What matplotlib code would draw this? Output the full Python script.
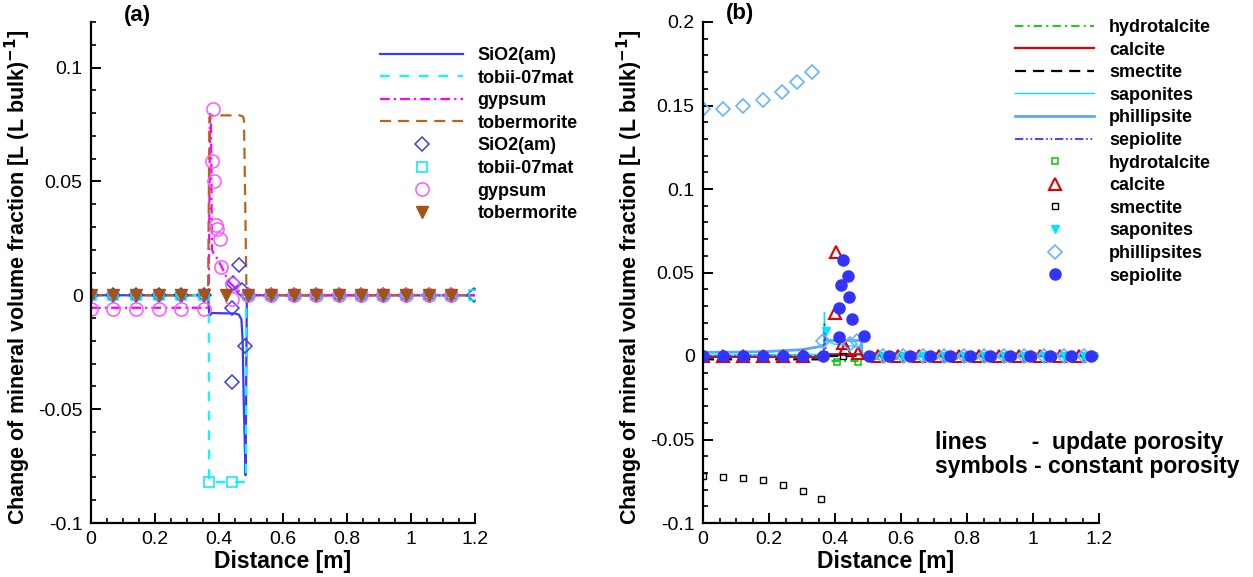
import numpy as np
import matplotlib
matplotlib.use("Agg")
import matplotlib.pyplot as plt
from matplotlib.ticker import MultipleLocator, FuncFormatter

plt.rcParams['font.family'] = ['Liberation Sans', 'DejaVu Sans']
plt.rcParams['axes.unicode_minus'] = False
plt.rcParams['lines.scale_dashes'] = False

# ---------------- panel (a) : lines (update porosity) ----------------
a_sio2_x = [0, 0.365, 0.370, 0.378, 0.45, 0.462, 0.470, 0.474, 0.477, 0.480, 0.483, 0.487, 1.2]
a_sio2_y = [0, 0, -0.009, -0.0078, -0.008, -0.0085, -0.0105, -0.02, -0.045, -0.062, -0.079, 0, 0]
a_tobii_x = [0, 0.368, 0.369, 0.484, 0.485, 1.2]
a_tobii_y = [0, 0, -0.082, -0.082, 0, 0]
a_gyp_x = [0, 0.366, 0.368, 0.372, 0.375, 0.378, 0.385, 0.395, 0.41, 0.43, 0.46, 0.5, 1.2]
a_gyp_y = [-0.0055, -0.0055, 0.0, 0.08, 0.075, 0.02, 0.018, 0.016, 0.012, 0.006, 0.002, 0, 0]
a_tob_x = [0, 0.366, 0.370, 0.375, 0.465, 0.475, 0.478, 0.482, 0.486, 1.2]
a_tob_y = [0, 0, 0.078, 0.079, 0.079, 0.0785, 0.077, 0.04, 0, 0]

# ---------------- panel (a) : symbols (constant porosity) ----------------
a_sio2_sx = [0, 0.07, 0.141, 0.211, 0.281, 0.352, 0.44, 0.44, 0.443, 0.463, 0.472, 0.48,
             0.492, 0.563, 0.633, 0.703, 0.774, 0.844, 0.914, 0.985, 1.055, 1.125, 1.196]
a_sio2_sy = [0, 0, 0, 0, 0, 0, -0.0379, -0.0056, 0.0055, 0.0135, 0.0025, -0.0223,
             0, 0, 0, 0, 0, 0, 0, 0, 0, 0, 0]
a_tobii_sx = [0, 0.07, 0.141, 0.211, 0.281, 0.352, 0.37, 0.44,
              0.492, 0.563, 0.633, 0.703, 0.774, 0.844, 0.914, 0.985, 1.055, 1.125, 1.196]
a_tobii_sy = [0, 0, 0, 0, 0, 0, -0.082, -0.082, 0, 0, 0, 0, 0, 0, 0, 0, 0, 0, 0]
a_gyp_sx = [0, 0.07, 0.141, 0.211, 0.281, 0.352, 0.38, 0.378, 0.383, 0.39, 0.394, 0.403,
            0.405, 0.44, 0.44, 0.492, 0.563, 0.633, 0.703, 0.774, 0.844, 0.914, 0.985, 1.055, 1.125]
a_gyp_sy = [-0.006, -0.006, -0.006, -0.006, -0.006, -0.006, 0.082, 0.059, 0.050, 0.031, 0.029,
            0.0245, 0.0123, 0.005, -0.0015, 0, 0, 0, 0, 0, 0, 0, 0, 0, 0]
a_tob_sx = [0, 0.07, 0.141, 0.211, 0.281, 0.352, 0.422, 0.492, 0.563, 0.633,
            0.703, 0.774, 0.844, 0.914, 0.985, 1.055, 1.125]
a_tob_sy = [0] * 17

# ---------------- panel (b) : lines ----------------
b_hyd_x = [0, 0.37, 0.38, 0.47, 0.48, 1.2]
b_hyd_y = [0, 0, -0.003, -0.003, 0, 0]
b_cal_x = [0, 0.37, 0.375, 0.48, 0.49, 1.2]
b_cal_y = [-0.0005, -0.0005, 0.001, 0.001, 0, 0]
b_sme_x = [0, 0.365, 0.37, 1.2]
b_sme_y = [-0.002, -0.002, 0, 0]
b_sap_x = [0, 0.366, 0.368, 0.370, 0.374, 0.40, 0.45, 0.48, 0.485, 1.2]
b_sap_y = [0.0005, 0.001, 0.026, 0.012, 0.009, 0.007, 0.006, 0.005, 0, 0]
b_phi_x = [0, 0.1, 0.2, 0.3, 0.35, 0.366, 0.37, 0.47, 0.48, 0.482, 1.2]
b_phi_y = [0.0022, 0.0023, 0.0027, 0.0038, 0.0055, 0.0065, 0.0093, 0.0093, 0.009, 0, 0]
b_sep_x = [0, 0.366, 0.368, 0.372, 0.38, 0.48, 0.49, 1.2]
b_sep_y = [0, 0, 0.019, 0.004, 0.001, 0.001, 0, 0]

# ---------------- panel (b) : symbols ----------------
b_hyd_sx = [0.406, 0.469, 0.52, 0.58, 0.64, 0.70, 0.76, 0.82, 0.88, 0.94, 1.0, 1.06, 1.12, 1.186]
b_hyd_sy = [-0.0035, -0.0035, 0, 0, 0, 0, 0, 0, 0, 0, 0, 0, 0, 0]
b_cal_sx = [0, 0.06, 0.122, 0.183, 0.241, 0.302, 0.403, 0.40, 0.425, 0.43, 0.47,
            0.53, 0.592, 0.655, 0.716, 0.777, 0.837, 0.898, 0.959, 1.02, 1.081, 1.139]
b_cal_sy = [0, 0, 0, 0, 0, 0, 0.0621, 0.0258, 0.0078, 0.004, 0.0015,
            0, 0, 0, 0, 0, 0, 0, 0, 0, 0, 0]
b_sme_sx = [0, 0.06, 0.122, 0.183, 0.241, 0.302, 0.357, 0.424]
b_sme_sy = [-0.0716, -0.0722, -0.0729, -0.0744, -0.0771, -0.081, -0.0855, 0.0]
b_sap_sx = [0.373, 0.544, 0.605, 0.666, 0.729, 0.79, 0.852, 0.912, 0.972, 1.033, 1.094, 1.155]
b_sap_sy = [0.0148, 0, 0, 0, 0, 0, 0, 0, 0, 0, 0, 0]
b_phi_sx = [0, 0.06, 0.122, 0.183, 0.238, 0.285, 0.33, 0.365, 0.445, 0.467,
            0.544, 0.605, 0.666, 0.729, 0.79, 0.852, 0.912, 0.972, 1.033, 1.094, 1.155]
b_phi_sy = [0.148, 0.148, 0.150, 0.153, 0.158, 0.164, 0.170, 0.0088, 0.007, 0.0088,
            0, 0, 0, 0, 0, 0, 0, 0, 0, 0, 0]
b_sep_sx = [0, 0.061, 0.122, 0.183, 0.241, 0.302, 0.365, 0.411, 0.411, 0.453, 0.442,
            0.417, 0.44, 0.425, 0.489, 0.503, 0.565, 0.626, 0.688, 0.749, 0.81,
            0.871, 0.931, 0.992, 1.053, 1.114, 1.175]
b_sep_sy = [0, 0, 0, 0, 0, 0, 0, 0.0115, 0.029, 0.022, 0.0352, 0.0423, 0.0478,
            0.0577, 0.0119, 0, 0, 0, 0, 0, 0, 0, 0, 0, 0, 0, 0]

W, H = 1253, 577
fig = plt.figure(figsize=(W / 100, H / 100), dpi=100)

def px_axes(x0, x1, ytop, ybot):
  return fig.add_axes([x0 / W, 1 - ybot / H, (x1 - x0) / W, (ybot - ytop) / H])

def style_axes(ax, ylim, ymajor):
  ax.set_xlim(0, 1.2)
  ax.set_ylim(*ylim)
  for s in ['top', 'right']:
    ax.spines[s].set_visible(False)
  for s in ['left', 'bottom']:
    ax.spines[s].set_linewidth(1.6)
  ax.xaxis.set_major_locator(MultipleLocator(0.2))
  ax.xaxis.set_minor_locator(MultipleLocator(0.05))
  ax.yaxis.set_major_locator(MultipleLocator(ymajor))
  ax.yaxis.set_minor_locator(MultipleLocator(0.01))
  fmt = FuncFormatter(lambda v, p: '0' if abs(v) < 1e-9 else ('%g' % round(v, 3)))
  ax.xaxis.set_major_formatter(fmt)
  ax.yaxis.set_major_formatter(fmt)
  ax.tick_params(which='major', direction='in', length=7, width=1.4, labelsize=14, pad=6)
  ax.tick_params(which='minor', direction='in', length=3.5, width=1.2)
  ax.set_xlabel('Distance [m]', fontsize=16.5, fontweight='bold')
  ax.set_ylabel('Change of mineral volume fraction [L (L bulk)$^{\\mathbf{-1}}$]',
                fontsize=15.5, fontweight='bold')

leg_kw = dict(loc='upper left', bbox_transform=fig.transFigure, frameon=False,
              borderpad=0, borderaxespad=0, handletextpad=0.8, labelspacing=0.31,
              numpoints=1, prop={'size': 13, 'weight': 'bold'})

# ---------------- (a) ----------------
ax1 = px_axes(91, 475, 22, 523)
style_axes(ax1, (-0.1, 0.12), 0.05)
h = []
h += ax1.plot(a_sio2_x, a_sio2_y, color='#3a3aff', lw=1.6, label='SiO2(am)')
h += ax1.plot(a_tobii_x, a_tobii_y, color='#00ffff', lw=1.6, dashes=(7, 7), label='tobii-07mat')
h += ax1.plot(a_gyp_x, a_gyp_y, color='#ff00ff', lw=1.6, dashes=(7, 3, 1.5, 3), label='gypsum')
h += ax1.plot(a_tob_x, a_tob_y, color='#b5651d', lw=1.6, dashes=(8, 5), label='tobermorite')
h += ax1.plot(a_sio2_sx, a_sio2_sy, ls='none', marker='D', ms=7, mfc='none', mec='#3a3aff', mew=1.1, label='SiO2(am)')
h += ax1.plot(a_tobii_sx, a_tobii_sy, ls='none', marker='s', ms=7, mfc='none', mec='#00e5ff', mew=1.1, label='tobii-07mat')
h += ax1.plot(a_gyp_sx, a_gyp_sy, ls='none', marker='o', ms=9.5, mfc='none', mec='#ff55ff', mew=1.1, label='gypsum')
h += ax1.plot(a_tob_sx, a_tob_sy, ls='none', marker='v', ms=8, color='#a65214', mec='#a65214', label='tobermorite')
ax1.legend(handles=h, bbox_to_anchor=(380 / W, 1 - 47 / H), handlelength=4.6, **leg_kw)
ax1.xaxis.set_label_coords(0.5, -0.054)
ax1.yaxis.set_label_coords(-0.152, 0.49)
fig.text(137 / W, 1 - 16 / H, '(a)', fontsize=16, fontweight='bold', ha='center', va='center')

# ---------------- (b) ----------------
ax2 = px_axes(703, 1099, 22, 523)
style_axes(ax2, (-0.1, 0.2), 0.05)
g = []
g += ax2.plot(b_hyd_x, b_hyd_y, color='#00cc00', lw=1.3, dashes=(6, 3, 1.5, 3), label='hydrotalcite')
g += ax2.plot(b_cal_x, b_cal_y, color='#dd0000', lw=1.6, label='calcite')
g += ax2.plot(b_sme_x, b_sme_y, color='black', lw=1.6, dashes=(8, 5), label='smectite')
g += ax2.plot(b_sap_x, b_sap_y, color='#00e5ff', lw=1.0, label='saponites')
g += ax2.plot(b_phi_x, b_phi_y, color='#55aaff', lw=2.0, label='phillipsite')
g += ax2.plot(b_sep_x, b_sep_y, color='#3333ff', lw=1.3, dashes=(6, 2, 1.2, 2, 1.2, 2), label='sepiolite')
g += ax2.plot(b_hyd_sx, b_hyd_sy, ls='none', marker='s', ms=5, mfc='none', mec='#00cc00', mew=1.1, label='hydrotalcite')
g += ax2.plot(b_cal_sx, b_cal_sy, ls='none', marker='^', ms=8, mfc='none', mec='#dd0000', mew=1.5, label='calcite')
g += ax2.plot(b_sme_sx, b_sme_sy, ls='none', marker='s', ms=5, mfc='none', mec='black', mew=1.0, label='smectite')
g += ax2.plot(b_sap_sx, b_sap_sy, ls='none', marker='v', ms=6, color='#00e5ff', label='saponites')
g += ax2.plot(b_phi_sx, b_phi_sy, ls='none', marker='D', ms=7, mfc='none', mec='#66b3ff', mew=1.2, label='phillipsites')
g += ax2.plot(b_sep_sx, b_sep_sy, ls='none', marker='o', ms=8, color='#3333ff', label='sepiolite')
ax2.legend(handles=g, bbox_to_anchor=(1015 / W, 1 - 19 / H), handlelength=4.4, **leg_kw)
ax2.xaxis.set_label_coords(0.46, -0.054)
ax2.yaxis.set_label_coords(-0.147, 0.49)
fig.text(740 / W, 1 - 14 / H, '(b)', fontsize=16, fontweight='bold', ha='center', va='center')
fig.text(935 / W, 1 - 443 / H, 'lines       -  update porosity', fontsize=16.5,
         fontweight='bold', ha='left', va='center')
fig.text(935 / W, 1 - 467 / H, 'symbols - constant porosity', fontsize=16.5,
         fontweight='bold', ha='left', va='center')

fig.savefig('out.png', dpi=100)
